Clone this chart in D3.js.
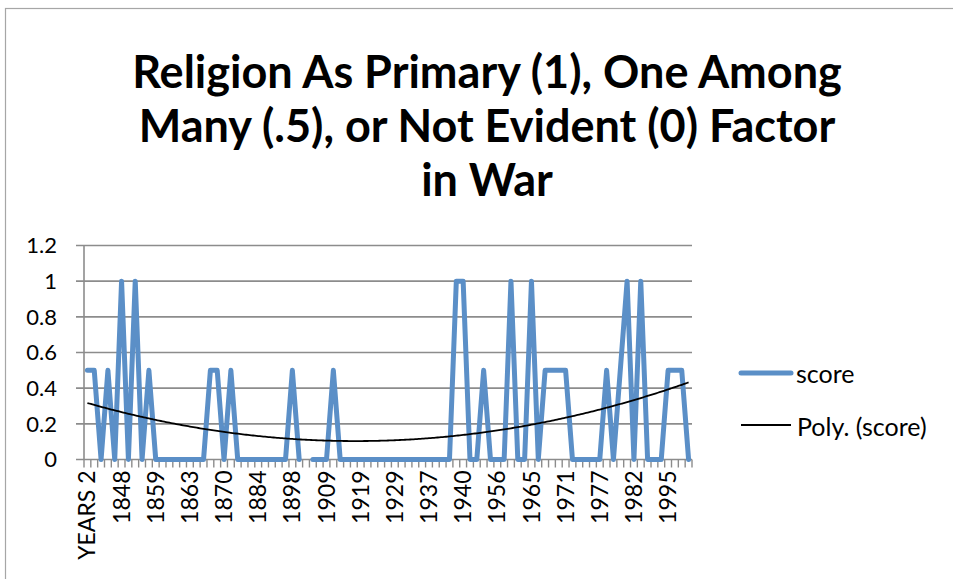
<!DOCTYPE html>
<html>
<head>
<meta charset="utf-8">
<script src="https://cdn.jsdelivr.net/npm/d3@7"></script>
<style>
  body { margin: 0; background: #fff; }
  text { font-family: Lato, "Open Sans", sans-serif; fill: #000; }
</style>
</head>
<body>
<div id="chart"></div>
<script>
"use strict"

// chart values
var titleLines = ["Religion As Primary (1), One Among", "Many (.5), or Not Evident (0) Factor", "in War"];
var tickLabels = ["YEARS 2", "1848", "1859", "1863", "1870", "1884", "1898", "1909", "1919",
                  "1929", "1937", "1940", "1956", "1965", "1971", "1977", "1982", "1995"];
var labelEvery = 5;
var scores = [0.5, 0.5, 0, 0.5, 0, 1, 0, 1, 0, 0.5,
              0, 0, 0, 0, 0, 0, 0, 0, 0.5, 0.5,
              0, 0.5, 0, 0, 0, 0, 0, 0, 0, 0,
              0.5, 0, null, 0, 0, 0, 0.5, 0, 0, 0,
              0, 0, 0, 0, 0, 0, 0, 0, 0, 0,
              0, 0, 0, 0, 1, 1, 0, 0, 0.5, 0,
              0, 0, 1, 0, 0, 1, 0, 0.5, 0.5, 0.5,
              0.5, 0, 0, 0, 0, 0, 0.5, 0, 0.5, 1,
              0, 1, 0, 0, 0, 0.5, 0.5, 0.5, 0];
var yTicks = [0, 0.2, 0.4, 0.6, 0.8, 1, 1.2];
var seriesName = "score";
var trendName = "Poly. (score)";

var width = 953, height = 579;
var margin = {top: 245.5, right: 261, bottom: 119.5, left: 84};

var svg = d3.select("#chart")
  .append("svg")
    .attr("width", width)
    .attr("height", height);

// outer chart border
svg.append("rect")
  .attr("x", 5.5).attr("y", 8.5)
  .attr("width", width).attr("height", height)
  .attr("fill", "none")
  .attr("stroke", "#a6a6a6")
  .attr("stroke-width", 1.2);

// title, sized to the width of the first line
var title = svg.append("g");
titleLines.forEach((t, i) => {
  title.append("text")
    .attr("x", 487)
    .attr("y", 88 + i * 54)
    .attr("text-anchor", "middle")
    .style("font-weight", "bold")
    .style("font-size", "40px")
    .text(t);
});
var firstW = title.select("text").node().getComputedTextLength();
var titleSize = 40 * 710 / firstW;
title.selectAll("text").style("font-size", titleSize + "px");

var x = d3.scaleBand()
  .domain(d3.range(scores.length))
  .range([margin.left, width - margin.right])
  .padding(0);

var y = d3.scaleLinear()
  .domain([0, 1.2])
  .range([height - margin.bottom, margin.top]);

var cx = i => x(i) + x.bandwidth() / 2;

// gridlines + y labels
svg.append("g")
  .selectAll("line")
  .data(yTicks)
  .join("line")
    .attr("x1", margin.left - 8)
    .attr("x2", width - margin.right)
    .attr("y1", d => y(d))
    .attr("y2", d => y(d))
    .attr("stroke", "#8c8c8c")
    .attr("stroke-width", 1.6);

svg.append("g")
  .selectAll("text")
  .data(yTicks)
  .join("text")
    .attr("x", 57)
    .attr("y", d => y(d))
    .attr("dy", "0.35em")
    .attr("text-anchor", "end")
    .style("font-size", "22px")
    .text(d => d3.format("")(d));

// y axis line
svg.append("line")
  .attr("x1", margin.left).attr("x2", margin.left)
  .attr("y1", y(1.2)).attr("y2", y(0))
  .attr("stroke", "#8c8c8c")
  .attr("stroke-width", 1.6);

// x tick marks on category boundaries
var bounds = d3.range(scores.length + 1).map(i => margin.left + i * x.bandwidth());
svg.append("g")
  .selectAll("line")
  .data(bounds)
  .join("line")
    .attr("x1", d => d).attr("x2", d => d)
    .attr("y1", y(0)).attr("y2", y(0) + 8)
    .attr("stroke", "#8c8c8c")
    .attr("stroke-width", 1.4);

// x labels, every 5th category
svg.append("g")
  .selectAll("text")
  .data(tickLabels)
  .join("text")
    .attr("transform", (d, i) => "translate(" + cx(i * labelEvery) + "," + (y(0) + 11) + ") rotate(-90)")
    .attr("dy", "0.35em")
    .attr("text-anchor", "end")
    .style("font-size", "23px")
    .text(d => d);

// score line
var line = d3.line()
  .defined(d => d != null)
  .x((d, i) => cx(i))
  .y(d => y(d));

svg.append("path")
  .datum(scores)
  .attr("fill", "none")
  .attr("stroke", "#5b8fc7")
  .attr("stroke-width", 5)
  .attr("stroke-linejoin", "round")
  .attr("stroke-linecap", "round")
  .attr("d", line);

// order 2 polynomial trendline, least squares over x = 1..n
function polyFit(vals) {
  var S = [0, 0, 0, 0, 0], T = [0, 0, 0];
  vals.forEach((v, i) => {
    if (v == null) return;
    var t = i + 1;
    for (var k = 0; k < 5; k++) S[k] += Math.pow(t, k);
    for (var k = 0; k < 3; k++) T[k] += v * Math.pow(t, k);
  });
  var A = [[S[0], S[1], S[2], T[0]], [S[1], S[2], S[3], T[1]], [S[2], S[3], S[4], T[2]]];
  for (var c = 0; c < 3; c++) {
    for (var r = c + 1; r < 3; r++) {
      var f = A[r][c] / A[c][c];
      for (var k = c; k < 4; k++) A[r][k] -= f * A[c][k];
    }
  }
  var coef = [0, 0, 0];
  for (var r = 2; r >= 0; r--) {
    var s = A[r][3];
    for (var k = r + 1; k < 3; k++) s -= A[r][k] * coef[k];
    coef[r] = s / A[r][r];
  }
  return coef;
}

var coef = polyFit(scores);
var steps = d3.range(0, scores.length - 1 + 0.01, 0.25);
var trend = d3.line()
  .x(t => cx(0) + t * x.bandwidth())
  .y(t => { var u = t + 1; return y(coef[0] + coef[1] * u + coef[2] * u * u); });

svg.append("path")
  .datum(steps)
  .attr("fill", "none")
  .attr("stroke", "#000")
  .attr("stroke-width", 1.8)
  .attr("d", trend);

// legend
var legend = svg.append("g");
legend.append("line")
  .attr("x1", 741).attr("x2", 791)
  .attr("y1", 373).attr("y2", 373)
  .attr("stroke", "#5b8fc7")
  .attr("stroke-width", 5)
  .attr("stroke-linecap", "round");
legend.append("text")
  .attr("x", 796).attr("y", 374)
  .attr("dy", "0.35em")
  .style("font-size", "25px")
  .text(seriesName);
legend.append("line")
  .attr("x1", 741).attr("x2", 791)
  .attr("y1", 425).attr("y2", 425)
  .attr("stroke", "#000")
  .attr("stroke-width", 1.8);
legend.append("text")
  .attr("x", 797).attr("y", 427)
  .attr("dy", "0.35em")
  .style("font-size", "25px")
  .text(trendName);
</script>
</body>
</html>
